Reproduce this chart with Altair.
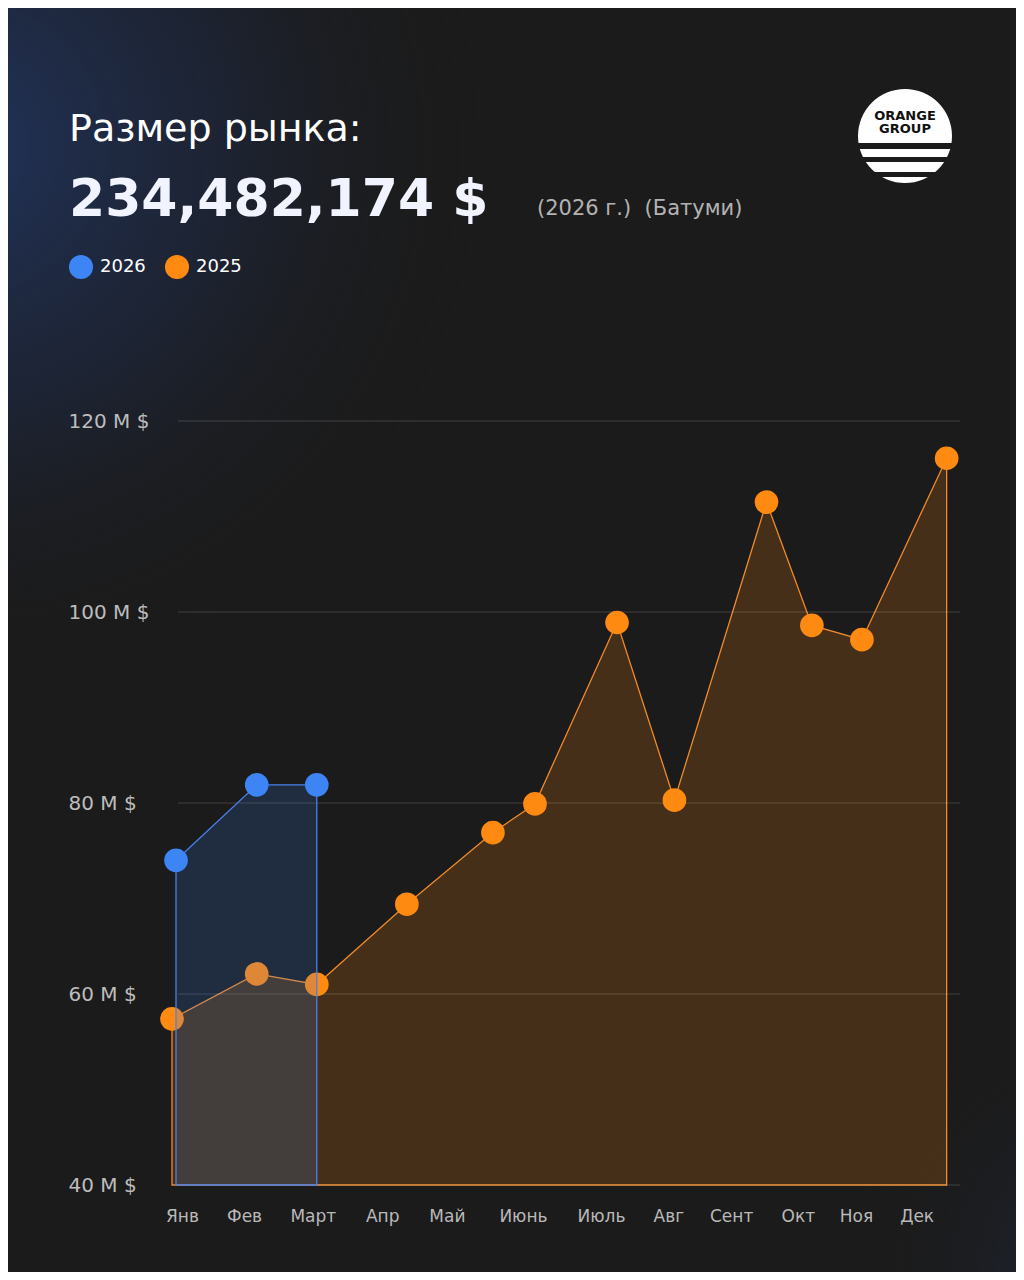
import altair as alt
import pandas as pd

# ---------------- data ----------------
months = ["Янв", "Фев", "Март", "Апр", "Май", "Июнь", "Июль", "Авг", "Сент", "Окт", "Ноя", "Дек"]
# where each month label sits along the month axis (as in the picture)
label_pos = [0, 0.93, 1.96, 3.0, 3.97, 5.11, 6.28, 7.29, 8.23, 9.23, 10.1, 11.01]
# position of each point along the month axis and its value in M $
pos_2025 = [-0.15, 1.12, 2.02, 3.37, 4.66, 5.29, 6.52, 7.38, 8.76, 9.44, 10.19, 11.46]
val_2025 = [57.4, 62.1, 61.0, 69.4, 76.9, 79.9, 98.9, 80.3, 111.5, 98.6, 97.1, 116.1]
pos_2026 = [-0.09, 1.12, 2.02]
val_2026 = [74.0, 81.9, 81.9]
y_ticks = [40, 60, 80, 100, 120]

title_text = "Размер рынка:"
total_text = "234,482,174 $"
sub_text = "(2026 г.)\u00a0\u00a0(Батуми)"
legend_labels = ["2026", "2025"]

BG = "#1b1b1b"
ORANGE = "#ff8a12"
BLUE = "#3d85f5"
FONT = "DejaVu Sans"

# ---------------- layout ----------------
W, H = 782, 764
PL, PT, PR, PB = 170, 413, 56, 87
OX, OY = 8 + PL, 8 + PT  # page position of plot origin


def px(x):
    return x - OX


def py(y):
    return y - OY


df25 = pd.DataFrame({"pos": pos_2025, "val": val_2025})
df26 = pd.DataFrame({"pos": pos_2026, "val": val_2026})
dfgrid = pd.DataFrame({"val": y_ticks})
one = pd.DataFrame({"a": [0]})

label_expr = (
    "[" + ",".join("'" + m + "'" for m in months) + "]"
    + "[indexof([" + ",".join(repr(v) for v in label_pos) + "], datum.value)]"
)

X = alt.X(
    "pos:Q",
    scale=alt.Scale(domain=[-0.06, 11.66], nice=False, zero=False),
    axis=alt.Axis(
        values=label_pos, labelExpr=label_expr, grid=False, domain=False, ticks=False,
        labelPadding=23, labelFontSize=17, labelColor="#b9b9b9", labelFont=FONT,
        labelFlush=False, labelOverlap=False, title=None, zindex=1,
    ),
)
Y = alt.Y(
    "val:Q",
    scale=alt.Scale(domain=[40, 120], nice=False, zero=False),
    axis=alt.Axis(
        values=y_ticks, labelExpr="datum.value + ' M $'", grid=False,
        domain=False, ticks=False, labelAlign="left", labelBaseline="middle",
        labelPadding=110, labelFontSize=20, labelColor="#bdbdbd", labelFont=FONT,
        labelFlush=False, title=None, zindex=1,
    ),
)

# background glows
glow1 = alt.Chart(one).mark_rect(
    fill=alt.RadialGradient(
        gradient="radial",
        stops=[
            alt.GradientStop(color="rgba(34,52,92,1)", offset=0),
            alt.GradientStop(color="rgba(30,42,70,0.55)", offset=0.5),
            alt.GradientStop(color="rgba(27,27,27,0)", offset=1),
        ],
        x1=0.06, y1=0.11, r1=0, x2=0.06, y2=0.11, r2=0.42,
    )
).encode(x=alt.value(-PL), x2=alt.value(W + PR), y=alt.value(-PT), y2=alt.value(H + PB))

glow2 = alt.Chart(one).mark_rect(
    fill=alt.RadialGradient(
        gradient="radial",
        stops=[
            alt.GradientStop(color="rgba(32,44,72,0.7)", offset=0),
            alt.GradientStop(color="rgba(27,27,27,0)", offset=1),
        ],
        x1=0.98, y1=1.0, r1=0, x2=0.98, y2=1.0, r2=0.21,
    )
).encode(x=alt.value(-PL), x2=alt.value(W + PR), y=alt.value(-PT), y2=alt.value(H + PB))

# gridlines (drawn above the areas, below the points)
grid = alt.Chart(dfgrid).mark_rule(color="#ffffff", opacity=0.17, strokeWidth=1).encode(y=Y)

# data layers
area25 = alt.Chart(df25).mark_area(
    fill=ORANGE, fillOpacity=0.19, stroke="#f08a2a", strokeWidth=1.3, interpolate="linear"
).encode(x=X, y=Y, y2=alt.datum(40))
pts25 = alt.Chart(df25).mark_circle(size=560, opacity=1, color=ORANGE).encode(x=X, y=Y)

area26 = alt.Chart(df26).mark_area(
    fill=BLUE, fillOpacity=0.17, stroke="#4a80e8", strokeWidth=1.3, interpolate="linear"
).encode(x=X, y=Y, y2=alt.datum(40))
pts26 = alt.Chart(df26).mark_circle(size=560, opacity=1, color=BLUE).encode(x=X, y=Y)

# header texts
t_title = alt.Chart(one).mark_text(
    text=title_text, align="left", baseline="alphabetic", font=FONT,
    fontSize=38, fontWeight="normal", color="#ffffff",
).encode(x=alt.value(px(69)), y=alt.value(py(141)))
t_total = alt.Chart(one).mark_text(
    text=total_text, align="left", baseline="alphabetic", font=FONT,
    fontSize=52, fontWeight="bold", color="#f1f3ff",
).encode(x=alt.value(px(69)), y=alt.value(py(216)))
t_sub = alt.Chart(one).mark_text(
    text=sub_text, align="left", baseline="alphabetic", font=FONT,
    fontSize=21, fontWeight="normal", color="#b3b3b3",
).encode(x=alt.value(px(537)), y=alt.value(py(215)))

# legend
leg_c1 = alt.Chart(one).mark_circle(size=580, opacity=1, color=BLUE).encode(
    x=alt.value(px(81)), y=alt.value(py(267)))
leg_c2 = alt.Chart(one).mark_circle(size=580, opacity=1, color=ORANGE).encode(
    x=alt.value(px(177)), y=alt.value(py(267)))
leg_t1 = alt.Chart(one).mark_text(
    text=legend_labels[0], align="left", baseline="middle", font=FONT,
    fontSize=18, fontWeight="normal", color="#ffffff",
).encode(x=alt.value(px(100)), y=alt.value(py(267)))
leg_t2 = alt.Chart(one).mark_text(
    text=legend_labels[1], align="left", baseline="middle", font=FONT,
    fontSize=18, fontWeight="normal", color="#ffffff",
).encode(x=alt.value(px(196)), y=alt.value(py(267)))

# logo
logo_c = alt.Chart(one).mark_circle(size=8836, opacity=1, color="#ffffff").encode(
    x=alt.value(px(905)), y=alt.value(py(136)))
logo_layers = [logo_c]
for (y1, y2) in [(143, 149), (157, 162), (172, 177)]:
    logo_layers.append(
        alt.Chart(one).mark_rect(color=BG).encode(
            x=alt.value(px(850)), x2=alt.value(px(962)), y=alt.value(py(y1)), y2=alt.value(py(y2)))
    )
for txt, yb in [("ORANGE", 120), ("GROUP", 133)]:
    logo_layers.append(
        alt.Chart(one).mark_text(
            text=txt, align="center", baseline="alphabetic", font=FONT,
            fontSize=13, fontWeight="bold", color="#111111",
        ).encode(x=alt.value(px(905)), y=alt.value(py(yb)))
    )

chart = alt.layer(
    glow1, glow2, area25, grid, pts25, area26, pts26,
    t_title, t_total, t_sub, leg_c1, leg_c2, leg_t1, leg_t2, *logo_layers,
).properties(
    width=W, height=H,
    autosize=alt.AutoSizeParams(type="none"),
    padding={"left": PL, "top": PT, "right": PR, "bottom": PB},
    background=BG,
).configure_view(stroke=None)

chart.save("out.html", embed_options={"renderer": "svg", "actions": False})
